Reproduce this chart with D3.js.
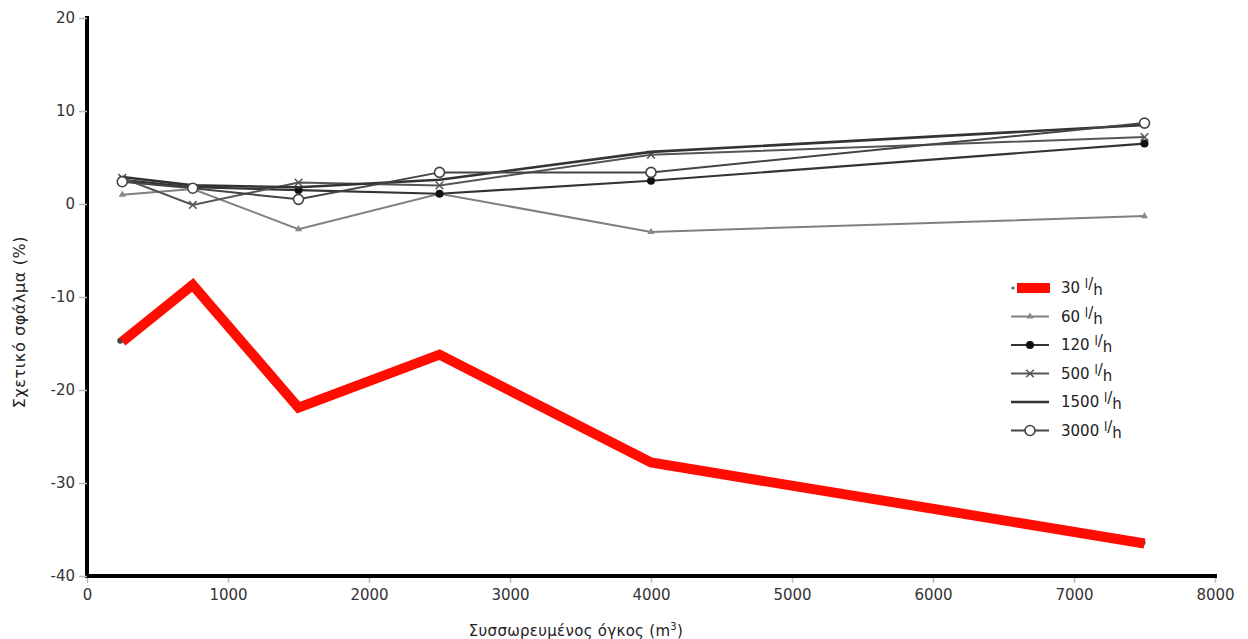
<!DOCTYPE html>
<meta charset="utf-8">
<script src="https://d3js.org/d3.v7.min.js"></script>
<style>
  body { margin: 0; background: #fff; }
  text { font-family: "DejaVu Sans", sans-serif; }
</style>
<div id="chart"></div>
<script>

  // data
  var volumes = [250, 750, 1500, 2500, 4000, 7500];
  var flows = ["30", "60", "120", "500", "1500", "3000"];
  var err30   = [-14.8, -8.7, -21.9, -16.2, -27.8, -36.5];
  var err60   = [1.0, 1.6, -2.7, 1.1, -3.0, -1.3];
  var err120  = [2.6, 1.8, 1.5, 1.1, 2.5, 6.5];
  var err500  = [2.8, -0.1, 2.3, 2.0, 5.3, 7.2];
  var err1500 = [2.9, 2.0, 1.8, 2.6, 5.6, 8.5];
  var err3000 = [2.4, 1.7, 0.5, 3.4, 3.4, 8.7];
  var xTicks = [0, 1000, 2000, 3000, 4000, 5000, 6000, 7000, 8000];
  var yTicks = [-40, -30, -20, -10, 0, 10, 20];

  var width = 1248, height = 639;
  var margin = {top: 18, right: 33, bottom: 63, left: 87};

  var svg = d3.select("#chart")
    .append("svg")
      .attr("width", width)
      .attr("height", height);

  var x = d3.scaleLinear().domain([0, 8000]).range([margin.left, width - margin.right]);
  var y = d3.scaleLinear().domain([-40, 20]).range([height - margin.bottom, margin.top]);

  // styles per series
  var series = [
    {name: "30",   values: err30,   color: "#ff0d00", width: 10, marker: "end"},
    {name: "60",   values: err60,   color: "#808080", width: 2, marker: "tri"},
    {name: "120",  values: err120,  color: "#333",    width: 2.2, marker: "dot"},
    {name: "500",  values: err500,  color: "#555",    width: 2, marker: "star"},
    {name: "1500", values: err1500, color: "#333",    width: 2.6, marker: "none"},
    {name: "3000", values: err3000, color: "#444",    width: 2, marker: "circle"}
  ];

  // axes
  var yAxis = svg.append("g")
    .attr("transform", "translate(" + margin.left + ",0)")
    .call(d3.axisLeft(y).tickValues(yTicks).tickSize(8).tickPadding(4)
      .tickFormat(function(d) { return String(d); }));
  var xAxis = svg.append("g")
    .attr("transform", "translate(0," + (height - margin.bottom) + ")")
    .call(d3.axisBottom(x).tickValues(xTicks).tickSize(7).tickPadding(6)
      .tickFormat(function(d) { return String(d); }));

  [xAxis, yAxis].forEach(function(a) {
    a.select(".domain").attr("stroke", "#000").attr("stroke-width", 4);
    a.selectAll(".tick line").attr("stroke", "#bbb").attr("stroke-width", 1.5);
    a.selectAll(".tick text").attr("fill", "#333").style("font-size", "15px");
  });
  xAxis.selectAll(".tick line").attr("y1", 2);
  yAxis.select(".domain").attr("d", "M0," + (margin.top - 2) + "V" + (height - margin.bottom + 2));
  xAxis.select(".domain").attr("d", "M" + margin.left + ",0H" + (width - margin.right + 2));

  // axis titles
  svg.append("text")
    .attr("transform", "translate(25,322) rotate(-90)")
    .attr("text-anchor", "middle")
    .attr("fill", "#222")
    .style("font-size", "16px")
    .style("letter-spacing", "0.6px")
    .text("Σχετικό σφάλμα (%)");

  var xt = svg.append("text")
    .attr("x", 576).attr("y", 636)
    .attr("text-anchor", "middle")
    .attr("fill", "#222")
    .style("font-size", "15px")
    .style("letter-spacing", "0.3px");
  xt.append("tspan").text("Συσσωρευμένος όγκος (m");
  xt.append("tspan").attr("dy", -6).style("font-size", "10px").text("3");
  xt.append("tspan").attr("dy", 6).text(")");

  var line = d3.line()
    .x(function(d, i) { return x(volumes[i]); })
    .y(function(d) { return y(d); });

  function drawMarker(g, type, cx, cy, color) {
    if (type === "dot") {
      g.append("circle").attr("cx", cx).attr("cy", cy).attr("r", 4).attr("fill", "#111");
    } else if (type === "circle") {
      g.append("circle").attr("cx", cx).attr("cy", cy).attr("r", 5)
        .attr("fill", "#fff").attr("stroke", "#444").attr("stroke-width", 1.6);
    } else if (type === "tri") {
      g.append("path").attr("d", d3.symbol(d3.symbolTriangle, 22)())
        .attr("transform", "translate(" + cx + "," + cy + ")").attr("fill", "#888");
    } else if (type === "star") {
      g.append("path").attr("d", d3.symbol(d3.symbolTimes, 40)())
        .attr("transform", "translate(" + cx + "," + cy + ")")
        .attr("stroke", "#555").attr("stroke-width", 1.5).attr("fill", "none");
    } else if (type === "end") {
      g.append("circle").attr("cx", cx).attr("cy", cy).attr("r", 3).attr("fill", "#444");
    }
  }

  // gray lines first, red on top
  var order = [1, 2, 3, 4, 5, 0];
  order.forEach(function(k) {
    var s = series[k];
    var g = svg.append("g");
    if (s.name === "30") {
      s.values.forEach(function(v, i) { drawMarker(g, s.marker, x(volumes[i]) - 2, y(v) - 1, s.color); });
    }
    g.append("path")
      .datum(s.values)
      .attr("fill", "none")
      .attr("stroke", s.color)
      .attr("stroke-width", s.width)
      .attr("stroke-linejoin", "miter")
      .attr("d", line);
    if (s.name !== "30") {
      s.values.forEach(function(v, i) { drawMarker(g, s.marker, x(volumes[i]), y(v), s.color); });
    }
  });

  // legend
  var legend = svg.append("g");
  flows.forEach(function(f, i) {
    var s = series[i];
    var ly = 288 + i * 28.5;
    var g = legend.append("g");
    if (f === "30") {
      g.append("circle").attr("cx", 1013).attr("cy", ly).attr("r", 1.5).attr("fill", "#555");
      g.append("rect").attr("x", 1017).attr("y", ly - 5).attr("width", 33).attr("height", 10).attr("fill", s.color);
    } else {
      g.append("line").attr("x1", 1011).attr("x2", 1049).attr("y1", ly).attr("y2", ly)
        .attr("stroke", s.color).attr("stroke-width", s.width);
      drawMarker(g, s.marker, 1030, ly, s.color);
    }
    var t = g.append("text")
      .attr("x", 1061).attr("y", ly + 5)
      .attr("fill", "#222")
      .style("font-size", "15px");
    t.append("tspan").text(f + " ");
    t.append("tspan").attr("dy", -5).style("font-size", "12px").text("l");
    t.append("tspan").attr("dy", 1).text("/");
    t.append("tspan").attr("dy", 6).text("h");
  });

</script>
